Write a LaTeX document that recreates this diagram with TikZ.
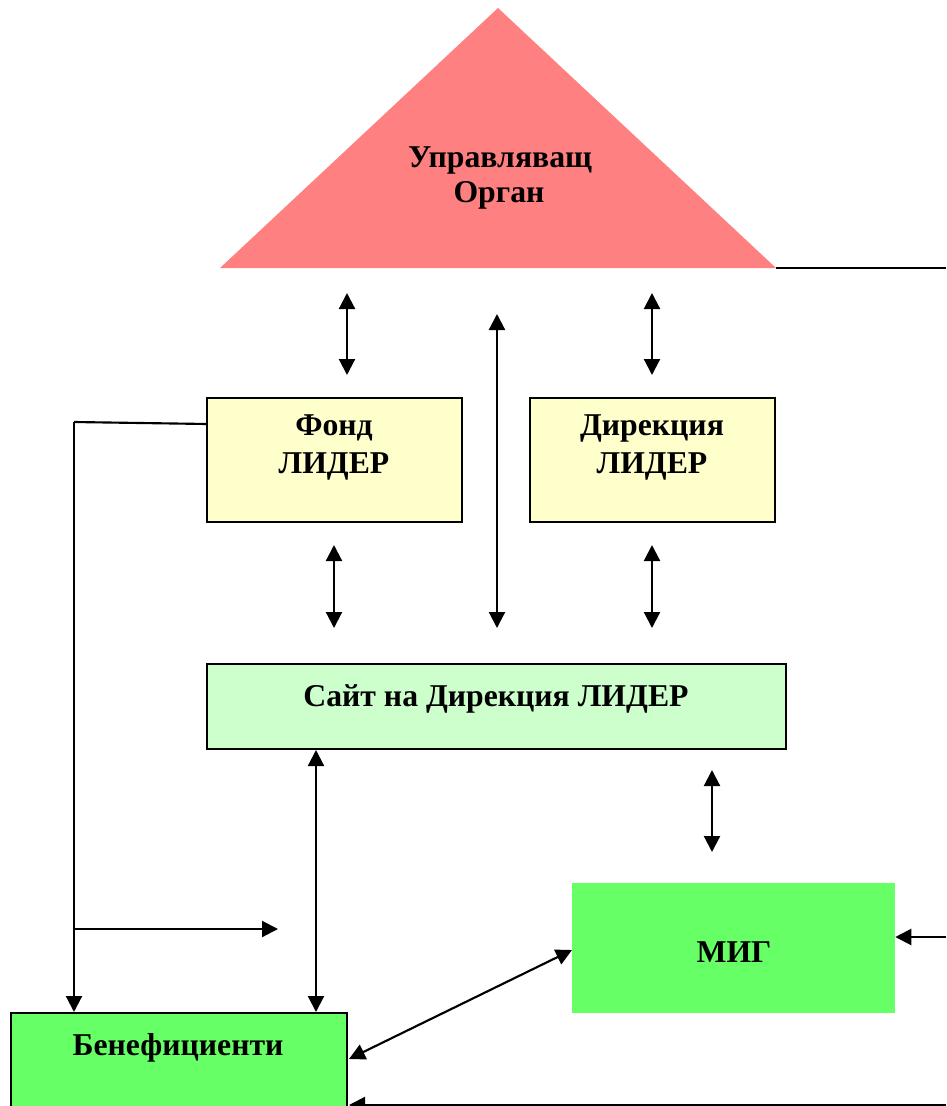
\documentclass[tikz,border=0pt]{standalone}
\usepackage{fontspec}
\setmainfont{Liberation Serif}
\usetikzlibrary{arrows.meta}
\definecolor{tri}{RGB}{255,128,128}
\definecolor{yel}{RGB}{255,255,204}
\definecolor{lgr}{RGB}{204,255,204}
\definecolor{grn}{RGB}{102,255,102}
\tikzset{
  box/.style={draw=black,line width=1.5pt,inner sep=0pt},
  lbl/.style={font=\fontsize{23.8}{28}\selectfont\bfseries,anchor=base,inner sep=0pt},
  conn/.style={line width=1.6pt,draw=black},
  ar/.style={conn,-{Triangle[length=12pt,width=12pt]}},
  dar/.style={conn,{Triangle[length=12pt,width=12pt]}-{Triangle[length=12pt,width=12pt]}},
}
\begin{document}
\begin{tikzpicture}[x=0.75pt,y=-0.75pt]
\useasboundingbox (0,0) rectangle (946,1106);
\clip (0,0) rectangle (946,1106);
\fill[white] (0,0) rectangle (946,1106);
% triangle
\coordinate (tA) at (498,8);
\coordinate (tL) at (220,268);
\coordinate (tR) at (776,268);
\fill[tri] (tA) -- (tR) -- (tL) -- cycle;
\node[lbl] (t1) at (500,167) {Управляващ};
\node[lbl] (t2) at (499,202) {Орган};
% boxes
\node[box,fill=yel,minimum width=191.25pt,minimum height=93pt] (fond) at (334.5,460) {};
\node[lbl] (f1) at (334,435) {Фонд};
\node[lbl] (f2) at (334,473) {ЛИДЕР};
\node[box,fill=yel,minimum width=183.75pt,minimum height=93pt] (dir) at (652.5,460) {};
\node[lbl] (d1) at (652,435) {Дирекция};
\node[lbl] (d2) at (652,473) {ЛИДЕР};
\node[box,fill=lgr,minimum width=434.25pt,minimum height=63.75pt] (site) at (496.5,706.5) {};
\node[lbl] (s1) at (496,706) {Сайт на Дирекция ЛИДЕР};
\node[inner sep=0pt,fill=grn,minimum width=242.25pt,minimum height=97.5pt] (mig) at (733.5,948) {};
\node[lbl] (m1) at (734,962) {МИГ};
\node[box,fill=grn,minimum width=252pt,minimum height=95.25pt] (ben) at (179,1076.5) {};
\node[lbl] (b1) at (178,1055) {Бенефициенти};
% coordinates
\coordinate (a1) at (347,293); \coordinate (a2) at (347,375);
\coordinate (b1a) at (497,314); \coordinate (b2a) at (497,628);
\coordinate (c1) at (652,293); \coordinate (c2) at (652,375);
\coordinate (e1) at (334,545); \coordinate (e2) at (334,628);
\coordinate (g1) at (652,545); \coordinate (g2) at (652,628);
\coordinate (h1) at (316,750); \coordinate (h2) at (316,1012);
\coordinate (k1) at (712,770); \coordinate (k2) at (712,852);
\coordinate (rEnd) at (946,268);
\coordinate (fA) at (207,424);
\coordinate (lc) at (74,422);
\coordinate (lb) at (74,1012);
\coordinate (hm) at (74,929); \coordinate (hr) at (278,929);
\coordinate (migR) at (946,937);
\coordinate (migW) at (572,950); \coordinate (benE) at (349,1059);
\coordinate (botR) at (946,1105); \coordinate (botL) at (349,1105);
% connectors
\draw[conn] (tR) -- (rEnd);
\draw[dar] (a1) -- (a2);
\draw[dar] (b1a) -- (b2a);
\draw[dar] (c1) -- (c2);
\draw[dar] (e1) -- (e2);
\draw[dar] (g1) -- (g2);
\draw[dar] (h1) -- (h2);
\draw[dar] (k1) -- (k2);
\draw[conn] (fA) -- (lc);
\draw[ar] (lc) -- (lb);
\draw[ar] (hm) -- (hr);
\draw[ar] (migR) -- (mig.east |- migR);
\draw[dar] (migW) -- (benE);
\draw[ar] (botR) -- (botL);
\end{tikzpicture}
\end{document}
